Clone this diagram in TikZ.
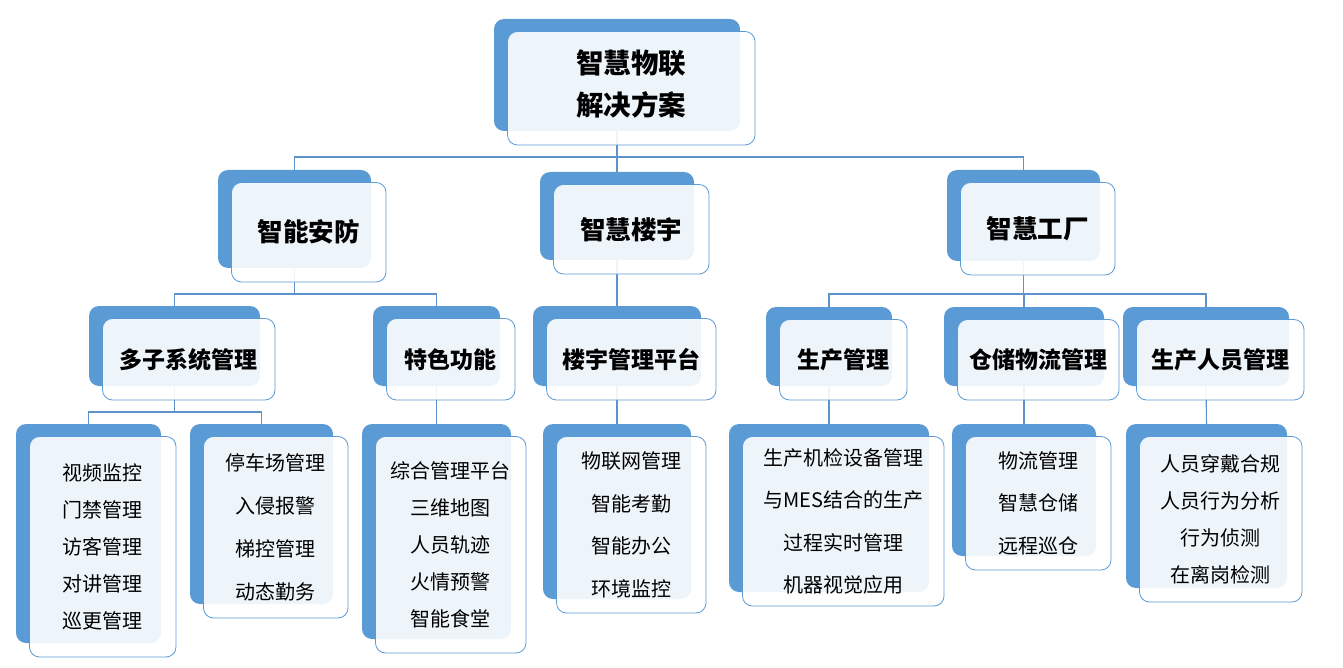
\documentclass[tikz,border=0pt]{standalone}
\usepackage{fontspec}
\setmainfont{Noto Sans CJK SC}
\usetikzlibrary{backgrounds}
\definecolor{backblue}{HTML}{5B9BD5}
\definecolor{frontline}{HTML}{5B9BD5}
\definecolor{connblue}{HTML}{5D92CB}
\tikzset{
  backbox/.style={fill=backblue, draw=none, rounded corners=10pt, inner sep=0pt, outer sep=0pt},
  frontbox/.style={fill=white, fill opacity=0.9, text opacity=1, draw=frontline, line width=0.8pt,
    rounded corners=10pt, inner sep=0pt, outer sep=0pt, align=center, text=black},
  t0/.style={font=\fontsize{27.5pt}{42pt}\selectfont\bfseries, align=center, text=black},
  t1/.style={font=\fontsize{25.5pt}{30pt}\selectfont\bfseries},
  t2/.style={font=\fontsize{23pt}{28pt}\selectfont\bfseries},
  lfA/.style={font=\fontsize{20pt}{37pt}\selectfont},
  lfB/.style={font=\fontsize{20pt}{42.5pt}\selectfont},
  lfC/.style={font=\fontsize{20pt}{43pt}\selectfont},
  conn/.style={draw=connblue, line width=1.1pt}
}
\newcommand\duo[7]{%
  \node[backbox, minimum width={#4-#2}, minimum height={#5-#3}] (#1B) at ({(#2+#4)/2},{(#3+#5)/2}) {};
  \node[frontbox, #6, minimum width={#4-#2+1.5}, minimum height={#5-#3+1.5}] (#1) at ({(#2+#4)/2+14.25},{(#3+#5)/2+13.25}) {#7};
}
\begin{document}
\begin{tikzpicture}[x=1pt,y=-1pt]
\useasboundingbox (0,0) rectangle (1343,668);
% level 0
\duo{root}{494}{19}{740}{131}{}{}
\node[t0] (rootT) at ([yshift=4pt]root.center) {智慧物联\\解决方案};
% level 1
\duo{a}{218}{170}{371}{268}{t1}{智能安防}
\duo{b}{540}{172}{694}{260}{t1}{智慧楼宇}
\duo{c}{947}{170}{1100}{261}{t1}{智慧工厂}
% level 2
\duo{aa}{89}{306}{260}{386}{t2}{多子系统管理}
\duo{ab}{373}{306}{500}{386}{t2}{特色功能}
\duo{ba}{533}{306}{701}{386}{t2}{楼宇管理平台}
\duo{ca}{766}{307}{892}{386}{t2}{生产管理}
\duo{cb}{944}{307}{1104}{386}{t2}{仓储物流管理}
\duo{cc}{1123}{307}{1289}{386}{t2}{生产人员管理}
% leaves
\duo{aaa}{16}{424}{161}{643}{lfA}{视频监控\\门禁管理\\访客管理\\对讲管理\\巡更管理}
\duo{aab}{190}{424}{333}{604}{lfC}{停车场管理\\入侵报警\\梯控管理\\动态勤务}
\duo{aba}{362}{424}{511}{639}{lfA}{综合管理平台\\三维地图\\人员轨迹\\火情预警\\智能食堂}
\duo{baa}{543}{424}{691}{599}{lfB}{物联网管理\\智能考勤\\智能办公\\环境监控}
\duo{caa}{729}{424}{929}{592}{lfB}{生产机检设备管理\\与MES结合的生产\\过程实时管理\\机器视觉应用}
\duo{cba}{952}{424}{1096}{556}{lfB}{物流管理\\智慧仓储\\远程巡仓}
\duo{cca}{1126}{424}{1287}{588}{lfA}{人员穿戴合规\\人员行为分析\\行为侦测\\在离岗检测}
% connectors
\coordinate (j0) at (0,157);
\coordinate (j1) at (0,294);
\coordinate (j2) at (0,412);
\begin{pgfonlayer}{background}
\draw[conn] (rootB.south) |- (aB.north |- j0) -- (aB.north);
\draw[conn] (rootB.south) -- (bB.north);
\draw[conn] (rootB.south) |- (cB.north |- j0) -- (cB.north);
\draw[conn] (aB.south) |- (aaB.north |- j1) -- (aaB.north);
\draw[conn] (aB.south) |- (abB.north |- j1) -- (abB.north);
\draw[conn] (bB.south) -- (baB.north);
\draw[conn] (cB.south) |- (caB.north |- j1) -- (caB.north);
\draw[conn] (cB.south) |- (cbB.north |- j1) -- (cbB.north);
\draw[conn] (cB.south) |- (ccB.north |- j1) -- (ccB.north);
\draw[conn] (aaB.south) |- (aaaB.north |- j2) -- (aaaB.north);
\draw[conn] (aaB.south) |- (aabB.north |- j2) -- (aabB.north);
\draw[conn] (abB.south) -- (abaB.north);
\draw[conn] (baB.south) -- (baaB.north);
\draw[conn] (caB.south) -- (caaB.north);
\draw[conn] (cbB.south) -- (cbaB.north);
\draw[conn] (ccB.south) -- (ccaB.north);
\end{pgfonlayer}
\end{tikzpicture}
\end{document}
